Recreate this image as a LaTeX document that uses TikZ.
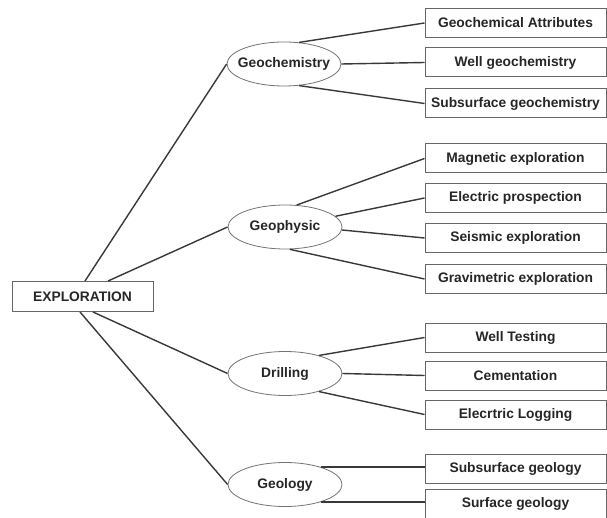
\documentclass[tikz,border=0pt]{standalone}
\usepackage{fontspec}
\setmainfont{Liberation Sans}
\usetikzlibrary{shapes.geometric}
\begin{document}
\begin{tikzpicture}[x=1pt,y=-1pt,
  leaf/.style={draw=black!60, line width=1pt, minimum width=181pt, minimum height=29pt, inner sep=0pt, font=\fontsize{13.8}{15}\selectfont\bfseries, text=black!85},
  oval/.style={ellipse, draw=black!55, line width=0.8pt, minimum width=114pt, minimum height=44pt, inner sep=0pt, font=\fontsize{13.8}{15}\selectfont\bfseries, text=black!85},
  link/.style={draw=black!78, line width=1.4pt}]
\useasboundingbox (0,0) rectangle (607,518);
% root
\node[leaf, minimum width=141pt, minimum height=30pt] (expl) at (82.5,296.5) {EXPLORATION\hspace{7pt}};
% categories
\node[oval] (gchem) at (284,64) {\makebox[0pt]{Geochemistry}};
\node[oval] (gphys) at (285,227) {\makebox[0pt]{Geophysic}};
\node[oval] (drill) at (285,373.5) {\makebox[0pt]{Drilling}};
\node[oval] (geol) at (285,484.5) {\makebox[0pt]{Geology}};
% leaves
\node[leaf] (ga) at (515.5,23) {Geochemical Attributes};
\node[leaf] (wg) at (515.5,62.5) {Well geochemistry};
\node[leaf] (sg) at (515.5,103.5) {Subsurface geochemistry};
\node[leaf] (me) at (515.5,158.5) {Magnetic exploration};
\node[leaf] (ep) at (515.5,198) {Electric prospection};
\node[leaf] (se) at (515.5,238) {Seismic exploration};
\node[leaf] (ge) at (515.5,279) {Gravimetric exploration};
\node[leaf] (wt) at (515.5,337.5) {Well Testing};
\node[leaf] (ce) at (515.5,375.5) {Cementation};
\node[leaf] (el) at (515.5,414.5) {Elecrtric Logging};
\node[leaf] (sug) at (515.5,469) {Subsurface geology};
\node[leaf] (sfg) at (515.5,503.5) {Surface geology};
% root links
\draw[link] ([xshift=2.5pt]expl.north) -- (gchem.west);
\draw[link] ([xshift=25.5pt]expl.north) -- (gphys.west);
\draw[link] ([xshift=10.5pt]expl.south) -- (drill.west);
\draw[link] ([xshift=-2.5pt]expl.south) -- (geol.west);
% geochemistry
\draw[link] (gchem.55) -- (ga.west);
\draw[link] (gchem.east) -- (wg.west);
\draw[link] (gchem.-55) -- (sg.west);
% geophysic
\draw[link] (gphys.62) -- (me.west);
\draw[link] (gphys.12) -- (ep.west);
\draw[link] (gphys.-3) -- (se.west);
\draw[link] (gphys.-78) -- (ge.west);
% drilling
\draw[link] (drill.28) -- (wt.west);
\draw[link] (drill.east) -- (ce.west);
\draw[link] (drill.-28) -- (el.west);
% geology
\draw[link] (geol.26) -- (geol.26 -| sug.west);
\draw[link] (geol.-26) -- (geol.-26 -| sfg.west);
\end{tikzpicture}
\end{document}
